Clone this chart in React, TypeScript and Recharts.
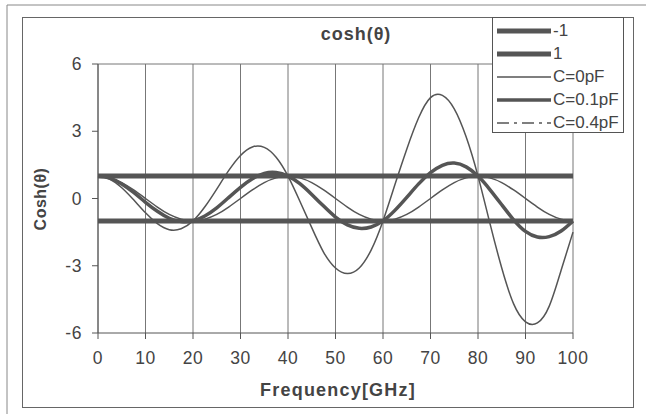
import { LineChart, Line, XAxis, YAxis, CartesianGrid, ReferenceLine } from 'recharts';

// frequency samples [GHz]
const freq = [
  0, 2.5, 5, 7.5, 10, 12.5, 15, 17.5, 20, 22.5, 25, 27.5, 30, 32.5, 35, 37.5, 40, 42.5, 45, 47.5, 50,
  52.5, 55, 57.5, 60, 62.5, 65, 67.5, 70, 72.5, 75, 77.5, 80, 82.5, 85, 87.5, 90, 92.5, 95, 97.5, 100
];

// cosh(theta)
const coshC0 = [
  1, 0.92, 0.71, 0.38, 0, -0.38, -0.71, -0.92, -1, -0.92, -0.71, -0.38, 0, 0.38, 0.71, 0.92, 1, 0.92, 0.71, 0.38, 0,
  -0.38, -0.71, -0.92, -1, -0.92, -0.71, -0.38, 0, 0.38, 0.71, 0.92, 1, 0.92, 0.71, 0.38, 0, -0.38, -0.71, -0.92, -1
];
const coshC01 = [
  1, 0.91, 0.65, 0.27, -0.17, -0.57, -0.88, -1.03, -1, -0.78, -0.42, 0.04, 0.5, 0.88, 1.12, 1.16, 1, 0.66, 0.18, -0.34, -0.83,
  -1.18, -1.33, -1.27, -1, -0.53, 0.05, 0.65, 1.15, 1.48, 1.58, 1.41, 1, 0.4, -0.28, -0.95, -1.47, -1.72, -1.7, -1.45, -1
];
const coshC04 = [
  1, 0.86, 0.48, -0.06, -0.64, -1.12, -1.39, -1.35, -1, -0.37, 0.42, 1.24, 1.92, 2.3, 2.28, 1.84, 1, -0.12, -1.3, -2.4, -3.1,
  -3.35, -3.1, -2.3, -1, 0.61, 2.2, 3.6, 4.5, 4.6, 4.0, 2.75, 1, -1.1, -3.1, -4.7, -5.5, -5.55, -4.8, -3.2, -1.5
];

const bandLimits = [-1, 1];
const xTicks = [0, 10, 20, 30, 40, 50, 60, 70, 80, 90, 100];
const yTicks = [-6, -3, 0, 3, 6];

const rows = freq.map((f, i) => ({ f, c0: coshC0[i], c01: coshC01[i], c04: coshC04[i] }));
const bandRows = bandLimits.map((v) => [
  { f: xTicks[0], v },
  { f: xTicks[xTicks.length - 1], v }
]);

const INK = '#555';
const FONT = '"Liberation Sans", Arial, sans-serif';

const legendItems = [
  { name: '-1', width: 5, dash: undefined },
  { name: '1', width: 5, dash: undefined },
  { name: 'C=0pF', width: 1.5, dash: undefined },
  { name: 'C=0.1pF', width: 3.5, dash: undefined },
  { name: 'C=0.4pF', width: 1.5, dash: '12 5 3 5' }
];

const tickStyle = { fontSize: 17.5, fill: '#444', fontFamily: FONT, letterSpacing: 0.6 };

export default function App() {
  return (
    <div style={{ position: 'absolute', left: 0, top: 0, width: 646, height: 414, background: '#fff', fontFamily: FONT }}>
      {/* page frame */}
      <svg width={646} height={414} style={{ position: 'absolute', left: 0, top: 0 }}>
        <line x1={7} y1={5} x2={646} y2={5} stroke="#888" strokeWidth={1} />
        <line x1={7} y1={5} x2={7} y2={414} stroke="#888" strokeWidth={1} />
        <rect x={22.5} y={17.5} width={611} height={390} fill="none" stroke="#666" strokeWidth={1} />
      </svg>

      <div style={{ position: 'absolute', left: 0, top: 0 }}>
        <LineChart width={646} height={414} data={rows} margin={{ top: 64, right: 73, bottom: 51, left: 58 }}>
          <CartesianGrid horizontal={false} stroke="#777" strokeWidth={1} />
          <ReferenceLine y={6} stroke="#777" />
          <XAxis
            dataKey="f"
            type="number"
            domain={[0, 100]}
            ticks={xTicks}
            height={30}
            stroke={INK}
            tickSize={6}
            tickMargin={13}
            tick={tickStyle}
          />
          <YAxis
            type="number"
            domain={[-6, 6]}
            ticks={yTicks}
            width={40}
            stroke={INK}
            tickSize={6}
            tickMargin={10}
            tick={tickStyle}
          />
          {bandRows.map((d, i) => (
            <Line
              key={`band-${i}`}
              data={d}
              dataKey="v"
              stroke={INK}
              strokeWidth={5}
              dot={false}
              isAnimationActive={false}
            />
          ))}
          <Line type="natural" dataKey="c0" stroke={INK} strokeWidth={1.5} dot={false} isAnimationActive={false} />
          <Line type="natural" dataKey="c01" stroke={INK} strokeWidth={3.5} dot={false} isAnimationActive={false} />
          <Line type="natural" dataKey="c04" stroke={INK} strokeWidth={1.5} dot={false} isAnimationActive={false} />
        </LineChart>
      </div>

      {/* titles */}
      <div style={{ position: 'absolute', left: 256, top: 24, width: 200, textAlign: 'center', fontSize: 18, fontWeight: 'bold', color: '#444', letterSpacing: 1 }}>
        cosh(θ)
      </div>
      <div style={{ position: 'absolute', left: 238, top: 380, width: 200, textAlign: 'center', fontSize: 18, fontWeight: 'bold', color: '#444', letterSpacing: 1.2, whiteSpace: 'nowrap' }}>
        Frequency[GHz]
      </div>
      <div
        style={{
          position: 'absolute',
          left: 41,
          top: 199,
          transform: 'translate(-50%, -50%) rotate(-90deg)',
          fontSize: 16,
          fontWeight: 'bold',
          color: '#444',
          letterSpacing: 0.5,
          whiteSpace: 'nowrap'
        }}
      >
        Cosh(θ)
      </div>

      {/* legend */}
      <div style={{ position: 'absolute', left: 492, top: 17, width: 130, height: 114, border: '1px solid #555', background: '#fff' }}>
        {legendItems.map((item, i) => (
          <div key={item.name} style={{ position: 'absolute', left: 0, top: 2 + i * 23, height: 22, display: 'flex', alignItems: 'center' }}>
            <svg width={60} height={22}>
              <line x1={4} y1={11} x2={58} y2={11} stroke={INK} strokeWidth={item.width} strokeDasharray={item.dash} />
            </svg>
            <span style={{ fontSize: 17, color: '#444', whiteSpace: 'nowrap' }}>{item.name}</span>
          </div>
        ))}
      </div>
    </div>
  );
}
